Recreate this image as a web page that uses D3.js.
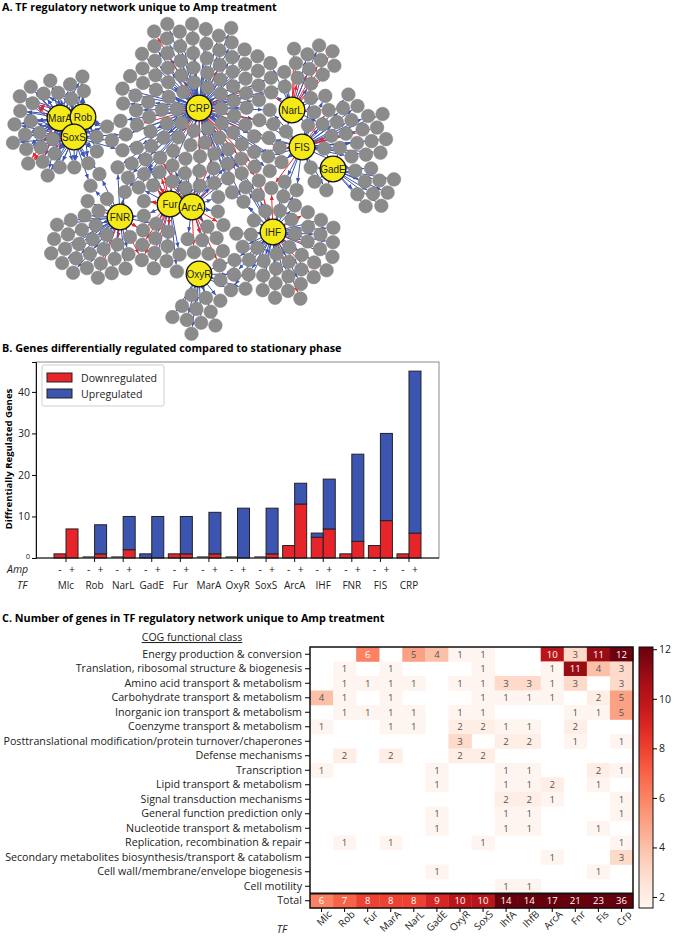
<!DOCTYPE html>
<html>
<head>
<meta charset="utf-8">
<script src="https://cdn.jsdelivr.net/npm/d3@7"></script>
<style>
  body { margin: 0; background: #fff; }
  svg { display: block; font-family: "Open Sans", Lato, sans-serif; }
</style>
</head>
<body>
<svg id="fig" width="674" height="944"></svg>
<script>
// ---------- data: panel A (network) ----------
const hubNames = ["CRP", "NarL", "FIS", "GadE", "MarA", "Rob", "SoxS", "FNR", "Fur", "ArcA", "IHF", "OxyR"];
// target groups: which TFs regulate them, how many up (blue) / down (red)
const groupTFs = [
  ["CRP"], ["CRP", "ArcA"], ["CRP", "Fur"], ["CRP", "FIS"], ["CRP", "IHF"], ["CRP", "FNR"],
  ["CRP", "NarL"], ["CRP", "SoxS"], ["MarA", "Rob", "SoxS"], ["SoxS", "FNR"], ["NarL"], ["NarL", "FIS"],
  ["FIS"], ["FIS", "GadE"], ["FIS", "IHF"], ["GadE"], ["FNR"], ["FNR", "Fur"],
  ["Fur"], ["Fur", "ArcA"], ["ArcA"], ["IHF"], ["IHF", "OxyR"], ["OxyR"]
];
const groupUp   = [72, 8, 4, 8, 5, 4, 4, 4, 28, 2, 3, 6, 16, 5, 3, 9, 26, 3, 5, 6, 4, 34, 5, 11];
const groupDown = [4, 3, 1, 2, 2, 0, 1, 0, 2, 0, 8, 1, 2, 0, 1, 0, 3, 2, 3, 4, 5, 5, 0, 0];

// ---------- data: panel B ----------
const barTFs = ["Mlc", "Rob", "NarL", "GadE", "Fur", "MarA", "OxyR", "SoxS", "ArcA", "IHF", "FNR", "FIS", "CRP"];
const downNoAmp = [1, 0, 0, 0, 1, 0, 0, 0, 3, 5, 1, 3, 1];
const upNoAmp   = [0, 0, 0, 1, 0, 0, 0, 0, 0, 1, 0, 0, 0];
const downAmp   = [7, 1, 2, 0, 1, 1, 0, 1, 13, 7, 4, 9, 6];
const upAmp     = [0, 7, 8, 10, 9, 10, 12, 11, 5, 12, 21, 21, 39];
const barTicks = [0, 10, 20, 30, 40];

// ---------- data: panel C ----------
const cogClasses = [
  "Energy production & conversion",
  "Translation, ribosomal structure & biogenesis",
  "Amino acid transport & metabolism",
  "Carbohydrate transport & metabolism",
  "Inorganic ion transport & metabolism",
  "Coenzyme transport & metabolism",
  "Posttranslational modification/protein turnover/chaperones",
  "Defense mechanisms",
  "Transcription",
  "Lipid transport & metabolism",
  "Signal transduction mechanisms",
  "General function prediction only",
  "Nucleotide transport & metabolism",
  "Replication, recombination & repair",
  "Secondary metabolites biosynthesis/transport & catabolism",
  "Cell wall/membrane/envelope biogenesis",
  "Cell motility",
  "Total"
];
const heatTFs = ["Mlc", "Rob", "Fur", "MarA", "NarL", "GadE", "OxyR", "SoxS", "IhfA", "IhfB", "ArcA", "Fnr", "Fis", "Crp"];
const cogCounts = [
  [0, 0, 6, 0, 5, 4, 1, 1, 0, 0, 10, 3, 11, 12],
  [0, 1, 0, 1, 0, 0, 0, 1, 0, 0, 1, 11, 4, 3],
  [0, 1, 1, 1, 1, 0, 1, 1, 3, 3, 1, 3, 0, 3],
  [4, 1, 0, 1, 0, 0, 0, 1, 1, 1, 1, 0, 2, 5],
  [0, 1, 1, 1, 1, 0, 1, 1, 0, 0, 0, 1, 1, 5],
  [1, 0, 0, 1, 1, 0, 2, 2, 1, 1, 0, 2, 0, 0],
  [0, 0, 0, 0, 0, 0, 3, 0, 2, 2, 0, 1, 0, 1],
  [0, 2, 0, 2, 0, 0, 2, 2, 0, 0, 0, 0, 0, 0],
  [1, 0, 0, 0, 0, 1, 0, 0, 1, 1, 0, 0, 2, 1],
  [0, 0, 0, 0, 0, 1, 0, 0, 1, 1, 2, 0, 1, 0],
  [0, 0, 0, 0, 0, 0, 0, 0, 2, 2, 1, 0, 0, 1],
  [0, 0, 0, 0, 0, 1, 0, 0, 1, 1, 0, 0, 0, 1],
  [0, 0, 0, 0, 0, 1, 0, 0, 1, 1, 0, 0, 1, 0],
  [0, 1, 0, 1, 0, 0, 0, 1, 0, 0, 0, 0, 0, 1],
  [0, 0, 0, 0, 0, 0, 0, 0, 0, 0, 1, 0, 0, 3],
  [0, 0, 0, 0, 0, 1, 0, 0, 0, 0, 0, 0, 1, 0],
  [0, 0, 0, 0, 0, 0, 0, 0, 1, 1, 0, 0, 0, 0]
];
const totals = [6, 7, 8, 8, 8, 9, 10, 10, 14, 14, 17, 21, 23, 36];
const cbarTicks = [2, 4, 6, 8, 10, 12];

// ---------- layout of the network (hub spots and where each group gathers) ----------
const hubPos = {
  CRP: [199, 108], NarL: [292, 110], FIS: [302, 147], GadE: [333, 169],
  MarA: [60, 118], Rob: [83, 117], SoxS: [74, 137], FNR: [120, 217],
  Fur: [170, 204], ArcA: [192, 207], IHF: [273, 232], OxyR: [199, 274]
};
const groupAnchor = [
  [197, 92], [195, 165], [170, 168], [258, 135], [240, 178], [140, 175],
  [255, 95], [120, 130], [58, 125], [95, 180], [310, 68], [305, 125],
  [348, 135], [325, 165], [285, 190], [372, 185], [95, 242], [145, 235],
  [160, 250], [182, 182], [205, 248], [285, 248], [235, 268], [198, 312]
];

const BLUE = "#3b55b0", RED = "#e8242b";
const svg = d3.select("#fig");

// titles
const titles = [
  ["A. TF regulatory network unique to Amp treatment", 11],
  ["B. Genes differentially regulated compared to stationary phase", 352],
  ["C. Number of genes in TF regulatory network unique to Amp treatment", 622]
];
svg.selectAll("text.title").data(titles).enter().append("text")
  .attr("class", "title")
  .attr("x", 2).attr("y", d => d[1])
  .attr("font-size", 10.8).attr("font-weight", 700)
  .text(d => d[0]);

// ================= panel A =================
function drawNetwork() {
  const g = svg.append("g");
  const nodes = [];
  hubNames.forEach(h => nodes.push({ id: h, hub: true, fx: hubPos[h][0], fy: hubPos[h][1], r: 13 }));
  const targets = [];
  groupTFs.forEach((tfs, gi) => {
    const n = groupUp[gi] + groupDown[gi];
    const down = groupDown[gi];
    const [ax, ay] = groupAnchor[gi];
    for (let k = 0; k < n; k++) {
      const a = k * 2.39996 + gi, rr = 7 * Math.sqrt(k + 0.5);
      // spread the red ones among the blue ones
      const isDown = Math.floor((k + 1) * down / n) > Math.floor(k * down / n);
      const t = { hub: false, tfs, down: isDown, ax, ay, r: 6.8,
                  x: ax + rr * Math.cos(a), y: ay + rr * Math.sin(a) };
      nodes.push(t); targets.push(t);
    }
  });

  const sim = d3.forceSimulation(nodes)
    .force("x", d3.forceX(d => d.hub ? d.fx : d.ax).strength(d => d.hub ? 0 : 0.05))
    .force("y", d3.forceY(d => d.hub ? d.fy : d.ay).strength(d => d.hub ? 0 : 0.05))
    .force("collide", d3.forceCollide(d => d.hub ? 15 : 7.3).iterations(4))
    .stop();
  for (let i = 0; i < 350; i++) {
    sim.tick();
    targets.forEach(t => {
      t.x = Math.max(8, Math.min(412, t.x));
      t.y = Math.max(24, Math.min(336, t.y));
    });
  }

  const defs = svg.append("defs");
  [["arrBlue", BLUE], ["arrRed", RED]].forEach(([id, c]) => {
    defs.append("marker").attr("id", id)
      .attr("viewBox", "0 -3 7 6").attr("refX", 7).attr("refY", 0)
      .attr("markerUnits", "userSpaceOnUse")
      .attr("markerWidth", 5).attr("markerHeight", 4.5)
      .attr("orient", "auto")
      .append("path").attr("d", "M0,-3L7,0L0,3Z").attr("fill", c);
  });

  const hubMap = {};
  nodes.filter(d => d.hub).forEach(d => hubMap[d.id] = d);
  const edges = [];
  targets.forEach(t => t.tfs.forEach(tf => edges.push({ s: hubMap[tf], t })));

  // edges under the grey nodes, as in the original network export
  g.append("g").selectAll("line").data(edges).enter().append("line")
    .each(function (e) {
      const dx = e.t.x - e.s.x, dy = e.t.y - e.s.y, L = Math.hypot(dx, dy) || 1;
      const ux = dx / L, uy = dy / L;
      d3.select(this)
        .attr("x1", e.s.x + ux * 12).attr("y1", e.s.y + uy * 12)
        .attr("x2", e.t.x - ux * (e.t.r + 0.3)).attr("y2", e.t.y - uy * (e.t.r + 0.3));
    })
    .attr("stroke", e => e.t.down ? RED : BLUE)
    .attr("stroke-width", 1)
    .attr("marker-end", e => e.t.down ? "url(#arrRed)" : "url(#arrBlue)");

  g.append("g").selectAll("circle").data(targets).enter().append("circle")
    .attr("cx", d => d.x).attr("cy", d => d.y).attr("r", d => d.r)
    .attr("fill", "#8b8b8b").attr("stroke", "#7d7d7d").attr("stroke-width", 0.5);

  const hubs = g.append("g").selectAll("g").data(nodes.filter(d => d.hub)).enter().append("g")
    .attr("transform", d => `translate(${d.fx},${d.fy})`);
  hubs.append("circle").attr("r", 12.8)
    .attr("fill", "#f4ea17").attr("stroke", "#111").attr("stroke-width", 1.3);
  hubs.append("text").attr("text-anchor", "middle").attr("dy", "0.36em")
    .attr("font-family", "'Liberation Sans', Arial, sans-serif").attr("font-size", 10)
    .attr("fill", "#222")
    .text(d => d.id);
}
drawNetwork();

// ================= panel B =================
function drawBars() {
  const g = svg.append("g");
  const x = d3.scaleLinear().domain([-1.05, 13.05]).range([36, 439]);
  const y = d3.scaleLinear().domain([0, 47.2]).range([558, 362]);
  const hw = 0.42;

  g.append("rect").attr("x", 36).attr("y", 362).attr("width", 403).attr("height", 196)
    .attr("fill", "none").attr("stroke", "#8a8a8a").attr("stroke-width", 1);

  const seg = [];
  barTFs.forEach((tf, i) => {
    seg.push({ x0: i - hw, x1: i, lo: 0, hi: downNoAmp[i], c: RED });
    seg.push({ x0: i - hw, x1: i, lo: downNoAmp[i], hi: downNoAmp[i] + upNoAmp[i], c: BLUE });
    seg.push({ x0: i, x1: i + hw, lo: 0, hi: downAmp[i], c: RED });
    seg.push({ x0: i, x1: i + hw, lo: downAmp[i], hi: downAmp[i] + upAmp[i], c: BLUE });
  });
  g.append("g").selectAll("rect").data(seg.filter(s => s.hi > s.lo)).enter().append("rect")
    .attr("x", s => x(s.x0)).attr("width", s => x(s.x1) - x(s.x0))
    .attr("y", s => y(s.hi)).attr("height", s => y(s.lo) - y(s.hi))
    .attr("fill", s => s.c).attr("stroke", "#222").attr("stroke-width", 1);
  // empty bars show as a flat line on the baseline
  const empty = [];
  barTFs.forEach((tf, i) => {
    if (downNoAmp[i] + upNoAmp[i] === 0) empty.push([i - hw, i]);
    if (downAmp[i] + upAmp[i] === 0) empty.push([i, i + hw]);
  });
  g.append("g").selectAll("line").data(empty).enter().append("line")
    .attr("x1", d => x(d[0])).attr("x2", d => x(d[1]))
    .attr("y1", y(0) - 1).attr("y2", y(0) - 1)
    .attr("stroke", "#222").attr("stroke-width", 1.2);

  const ya = g.append("g").attr("transform", "translate(36,0)")
    .call(d3.axisLeft(y).tickValues(barTicks).tickSize(4).tickPadding(2));
  ya.select(".domain").attr("stroke", "#111");
  ya.selectAll("text").attr("font-family", "'Open Sans', sans-serif").attr("font-size", 10.5).attr("fill", "#222");
  ya.selectAll("text").filter(d => d === 0).attr("font-size", 7.5).attr("dy", "0.1em");

  g.append("line").attr("x1", 36).attr("x2", 439).attr("y1", 558).attr("y2", 558)
    .attr("stroke", "#111").attr("stroke-width", 1.2);
  g.append("g").selectAll("line").data(barTFs).enter().append("line")
    .attr("x1", (d, i) => x(i)).attr("x2", (d, i) => x(i))
    .attr("y1", 558).attr("y2", 562).attr("stroke", "#111");

  const pm = [];
  barTFs.forEach((tf, i) => { pm.push([i - hw / 2, "-"]); pm.push([i + hw / 2, "+"]); });
  g.append("g").selectAll("text").data(pm).enter().append("text")
    .attr("x", d => x(d[0])).attr("y", 573).attr("text-anchor", "middle")
    .attr("font-size", 10.5).attr("fill", "#222").text(d => d[1]);
  g.append("g").selectAll("text").data(barTFs).enter().append("text")
    .attr("x", (d, i) => x(i)).attr("y", 589).attr("text-anchor", "middle")
    .attr("font-size", 10).attr("fill", "#222").text(d => d);
  g.append("text").attr("x", 7).attr("y", 573).attr("font-style", "italic")
    .attr("font-size", 10.5).attr("fill", "#222").text("Amp");
  g.append("text").attr("x", 17).attr("y", 589).attr("font-style", "italic")
    .attr("font-size", 10.5).attr("fill", "#222").text("TF");

  g.append("text").attr("transform", "translate(12,459) rotate(-90)")
    .attr("text-anchor", "middle").attr("font-size", 9.6).attr("font-weight", 700)
    .text("Diffrentially Regulated Genes");

  // legend
  const lg = g.append("g");
  lg.append("rect").attr("x", 42).attr("y", 365).attr("width", 122).attr("height", 41)
    .attr("rx", 2).attr("fill", "#fff").attr("stroke", "#cfcfcf");
  [["Downregulated", RED, 373], ["Upregulated", BLUE, 389]].forEach(([lab, c, yy]) => {
    lg.append("rect").attr("x", 47).attr("y", yy).attr("width", 25).attr("height", 9)
      .attr("fill", c).attr("stroke", "#222").attr("stroke-width", 1);
    lg.append("text").attr("x", 81).attr("y", yy + 8.5).attr("font-size", 10.6)
      .attr("fill", "#222").text(lab);
  });
}
drawBars();

// ================= panel C =================
function drawHeatmap() {
  const g = svg.append("g");
  const x = d3.scaleBand().domain(heatTFs).range([310, 633]);
  const y = d3.scaleBand().domain(cogClasses).range([647, 908]);
  const color = d3.scaleSequential(d3.interpolateReds).domain([1.556, 12.09]).clamp(true);

  const cells = [];
  cogCounts.forEach((row, r) => row.forEach((v, c) => { if (v > 0) cells.push({ r: cogClasses[r], c: heatTFs[c], v }); }));
  totals.forEach((v, c) => cells.push({ r: "Total", c: heatTFs[c], v, total: true }));

  g.append("g").selectAll("rect").data(cells).enter().append("rect")
    .attr("x", d => x(d.c)).attr("y", d => y(d.r))
    .attr("width", x.bandwidth() + 0.3).attr("height", y.bandwidth() + 0.3)
    .attr("fill", d => color(d.v));
  g.append("g").selectAll("text").data(cells).enter().append("text")
    .attr("x", d => x(d.c) + x.bandwidth() / 2).attr("y", d => y(d.r) + y.bandwidth() / 2)
    .attr("dy", "0.36em").attr("text-anchor", "middle").attr("font-size", 9.6)
    .attr("fill", d => d.v >= 6 ? "#fff" : "#555").text(d => d.v);

  g.append("rect").attr("x", 310).attr("y", 647).attr("width", 323).attr("height", 261)
    .attr("fill", "none").attr("stroke", "#111").attr("stroke-width", 1.5);
  g.append("line").attr("x1", 310).attr("x2", 633)
    .attr("y1", y("Total")).attr("y2", y("Total"))
    .attr("stroke", "#111").attr("stroke-width", 2);

  const ya = g.append("g").attr("transform", "translate(310,0)")
    .call(d3.axisLeft(y).tickSize(5).tickPadding(3));
  ya.select(".domain").remove();
  ya.selectAll("text").attr("font-family", "'Open Sans', sans-serif").attr("font-size", 10.7).attr("fill", "#222");

  const xa = g.append("g").attr("transform", "translate(0,908)")
    .call(d3.axisBottom(x).tickSize(4));
  xa.select(".domain").remove();
  xa.selectAll("text")
    .attr("font-family", "'Open Sans', sans-serif").attr("font-size", 10).attr("fill", "#222")
    .attr("text-anchor", "end").attr("dy", 0)
    .attr("transform", "translate(6,2) rotate(-45)");

  g.append("text").attr("x", 282).attr("y", 933).attr("text-anchor", "middle")
    .attr("font-style", "italic").attr("font-size", 10.5).attr("fill", "#222").text("TF");
  g.append("text").attr("x", 192).attr("y", 641).attr("text-anchor", "middle")
    .attr("font-size", 10.5).attr("fill", "#222").attr("text-decoration", "underline")
    .text("COG functional class");

  // colour bar
  const cy = d3.scaleLinear().domain(color.domain()).range([908, 647]);
  const grad = svg.append("defs").append("linearGradient").attr("id", "cbar")
    .attr("x1", 0).attr("y1", 1).attr("x2", 0).attr("y2", 0);
  d3.range(0, 1.0001, 0.05).forEach(t => grad.append("stop")
    .attr("offset", t).attr("stop-color", d3.interpolateReds(t)));
  g.append("rect").attr("x", 639).attr("y", 647).attr("width", 14).attr("height", 261)
    .attr("fill", "url(#cbar)").attr("stroke", "#111").attr("stroke-width", 1);
  const ca = g.append("g").attr("transform", "translate(653,0)")
    .call(d3.axisRight(cy).tickValues(cbarTicks).tickSize(4).tickPadding(2));
  ca.select(".domain").remove();
  ca.selectAll("text").attr("font-family", "'Open Sans', sans-serif").attr("font-size", 10.5).attr("fill", "#222");
}
drawHeatmap();
</script>
</body>
</html>
